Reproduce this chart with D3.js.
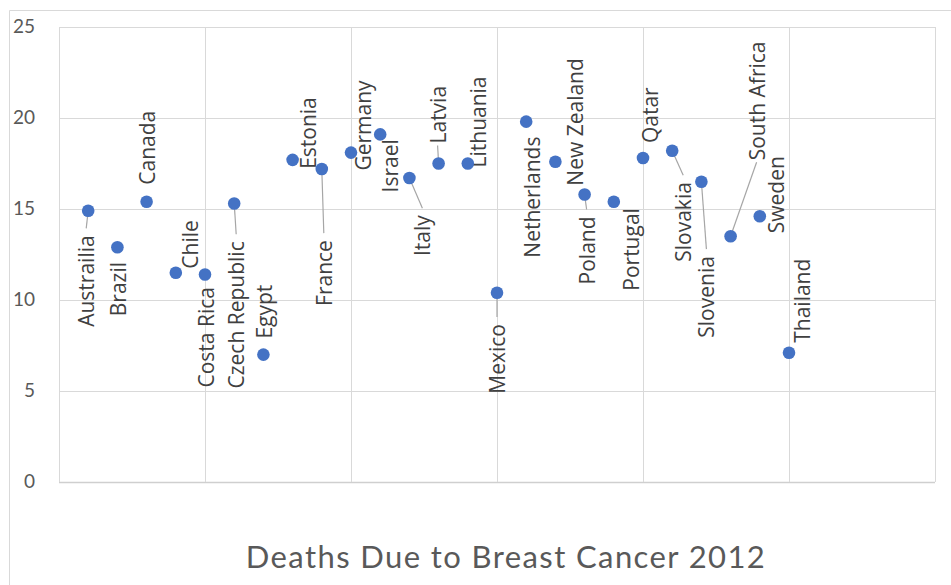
<!DOCTYPE html>
<html>
<head>
<meta charset="utf-8">
<script src="https://cdn.jsdelivr.net/npm/d3@7"></script>
<style>
  html, body { margin: 0; padding: 0; background: #ffffff; }
  svg { display: block; }
</style>
</head>
<body>
<svg id="chart" width="951" height="585"></svg>
<script>
// Breast cancer deaths (per 100,000) by country, 2012
const countries = [
  "Austrailia", "Brazil", "Canada", "Chile", "Costa Rica", "Czech Republic",
  "Egypt", "Estonia", "France", "Germany", "Israel", "Italy", "Latvia",
  "Lithuania", "Mexico", "Netherlands", "New Zealand", "Poland", "Portugal",
  "Qatar", "Slovakia", "Slovenia", "South Africa", "Sweden", "Thailand"
];
const deaths = [
  14.9, 12.9, 15.4, 11.5, 11.4, 15.3,
  7.0, 17.7, 17.2, 18.1, 19.1, 16.7, 17.5,
  17.5, 10.4, 19.8, 17.6, 15.8, 15.4,
  17.8, 18.2, 16.5, 13.5, 14.6, 7.1
];
const xTicks = [0, 5, 10, 15, 20, 25, 30];
const yTicks = [0, 5, 10, 15, 20, 25];
const chartTitle = "Deaths Due to Breast Cancer 2012";

// Label placement: horizontal shift of the label centre and vertical shift of
// the label's lower end, in pixels from the marker; "lead" draws a leader line.
const labelPlacement = {
  "Austrailia":     { dx: -2, dy: 116, lead: true },
  "Brazil":         { dx: 1,  dy: 69 },
  "Canada":         { dx: 0,  dy: -17 },
  "Chile":          { dx: 14, dy: -4 },
  "Costa Rica":     { dx: 1,  dy: 113 },
  "Czech Republic": { dx: 2,  dy: 185, lead: true },
  "Egypt":          { dx: 1,  dy: -16 },
  "Estonia":        { dx: 15, dy: 9 },
  "France":         { dx: 2,  dy: 137, lead: true },
  "Germany":        { dx: 12, dy: 18 },
  "Israel":         { dx: 10, dy: 58 },
  "Italy":          { dx: 13, dy: 78, lead: true },
  "Latvia":         { dx: -1, dy: -20, lead: true },
  "Lithuania":      { dx: 10, dy: 4 },
  "Mexico":         { dx: 0,  dy: 101, lead: true },
  "Netherlands":    { dx: 6,  dy: 136 },
  "New Zealand":    { dx: 20, dy: 24 },
  "Poland":         { dx: 2,  dy: 90, lead: true },
  "Portugal":       { dx: 17, dy: 89 },
  "Qatar":          { dx: 7,  dy: -15 },
  "Slovakia":       { dx: 11, dy: 111, lead: true },
  "Slovenia":       { dx: 5,  dy: 156, lead: true },
  "South Africa":   { dx: 26, dy: -76, lead: true },
  "Sweden":         { dx: 16, dy: 17 },
  "Thailand":       { dx: 13, dy: -10 }
};

const points = countries.map((c, i) => ({ name: c, idx: i + 1, value: deaths[i] }));

const svg = d3.select("#chart");
const W = 951, H = 585;
const plot = { left: 59, right: 935, top: 27, bottom: 482 };

const x = d3.scaleLinear().domain([0, 30]).range([plot.left, plot.right]);
const y = d3.scaleLinear().domain([0, 25]).range([plot.bottom, plot.top]);

// Outer chart frame
svg.append("path")
  .attr("d", `M9.5,${H} L9.5,10.5 L${W},10.5`)
  .attr("fill", "none")
  .attr("stroke", "#d9d9d9")
  .attr("stroke-width", 1);

// Gridlines
const grid = svg.append("g");
grid.selectAll("line.h").data(yTicks).join("line")
  .attr("class", "h")
  .attr("x1", plot.left).attr("x2", plot.right)
  .attr("y1", d => Math.round(y(d)) + 0.5).attr("y2", d => Math.round(y(d)) + 0.5)
  .attr("stroke", d => d === 0 ? "#cfcfcf" : "#d9d9d9")
  .attr("stroke-width", d => d === 0 ? 1.5 : 1);
grid.selectAll("line.v").data(xTicks).join("line")
  .attr("class", "v")
  .attr("y1", plot.top).attr("y2", plot.bottom)
  .attr("x1", d => Math.round(x(d)) + 0.5).attr("x2", d => Math.round(x(d)) + 0.5)
  .attr("stroke", "#d9d9d9")
  .attr("stroke-width", 1);

// Y axis tick labels
const yAxis = d3.axisLeft(y).tickValues(yTicks).tickSize(0).tickPadding(24);
const yG = svg.append("g")
  .attr("transform", `translate(${plot.left},0)`)
  .call(yAxis);
yG.select(".domain").remove();
yG.selectAll("text")
  .attr("font-family", "Lato, 'Open Sans', sans-serif")
  .attr("font-size", 19)
  .attr("fill", "#595959")
  .attr("dy", "0.28em");

// Data labels with optional leader lines
const labelFont = "'Open Sans', 'DejaVu Sans', sans-serif";
const leaders = svg.append("g");
const labels = svg.append("g");

points.forEach(p => {
  const place = labelPlacement[p.name];
  const px = x(p.idx), py = y(p.value);
  const cx = px + place.dx;
  const bottom = py + place.dy;
  const t = labels.append("text")
    .attr("transform", `translate(${cx},${bottom}) rotate(-90)`)
    .attr("text-anchor", "start")
    .attr("dominant-baseline", "central")
    .attr("font-family", labelFont)
    .attr("font-size", 21)
    .attr("fill", "#404040")
    .text(p.name);
  if (place.lead) {
    const len = t.node().getComputedTextLength();
    const top = bottom - len;
    let ex, ey;
    if (top > py) { ex = cx; ey = top - 7; }      // label below the marker
    else { ex = cx; ey = bottom + 2; }            // label above the marker
    leaders.append("line")
      .attr("x1", px).attr("y1", py)
      .attr("x2", ex).attr("y2", ey)
      .attr("stroke", "#a6a6a6")
      .attr("stroke-width", 1.2);
  }
});

// Markers
svg.append("g").selectAll("circle").data(points).join("circle")
  .attr("cx", d => x(d.idx))
  .attr("cy", d => y(d.value))
  .attr("r", 6.3)
  .attr("fill", "#4472c4");

// Title
svg.append("text")
  .attr("x", 506)
  .attr("y", 568)
  .attr("text-anchor", "middle")
  .attr("font-family", "Lato, 'Open Sans', sans-serif")
  .attr("font-size", 31)
  .attr("letter-spacing", 1.4)
  .attr("fill", "#595959")
  .text(chartTitle);
</script>
</body>
</html>
